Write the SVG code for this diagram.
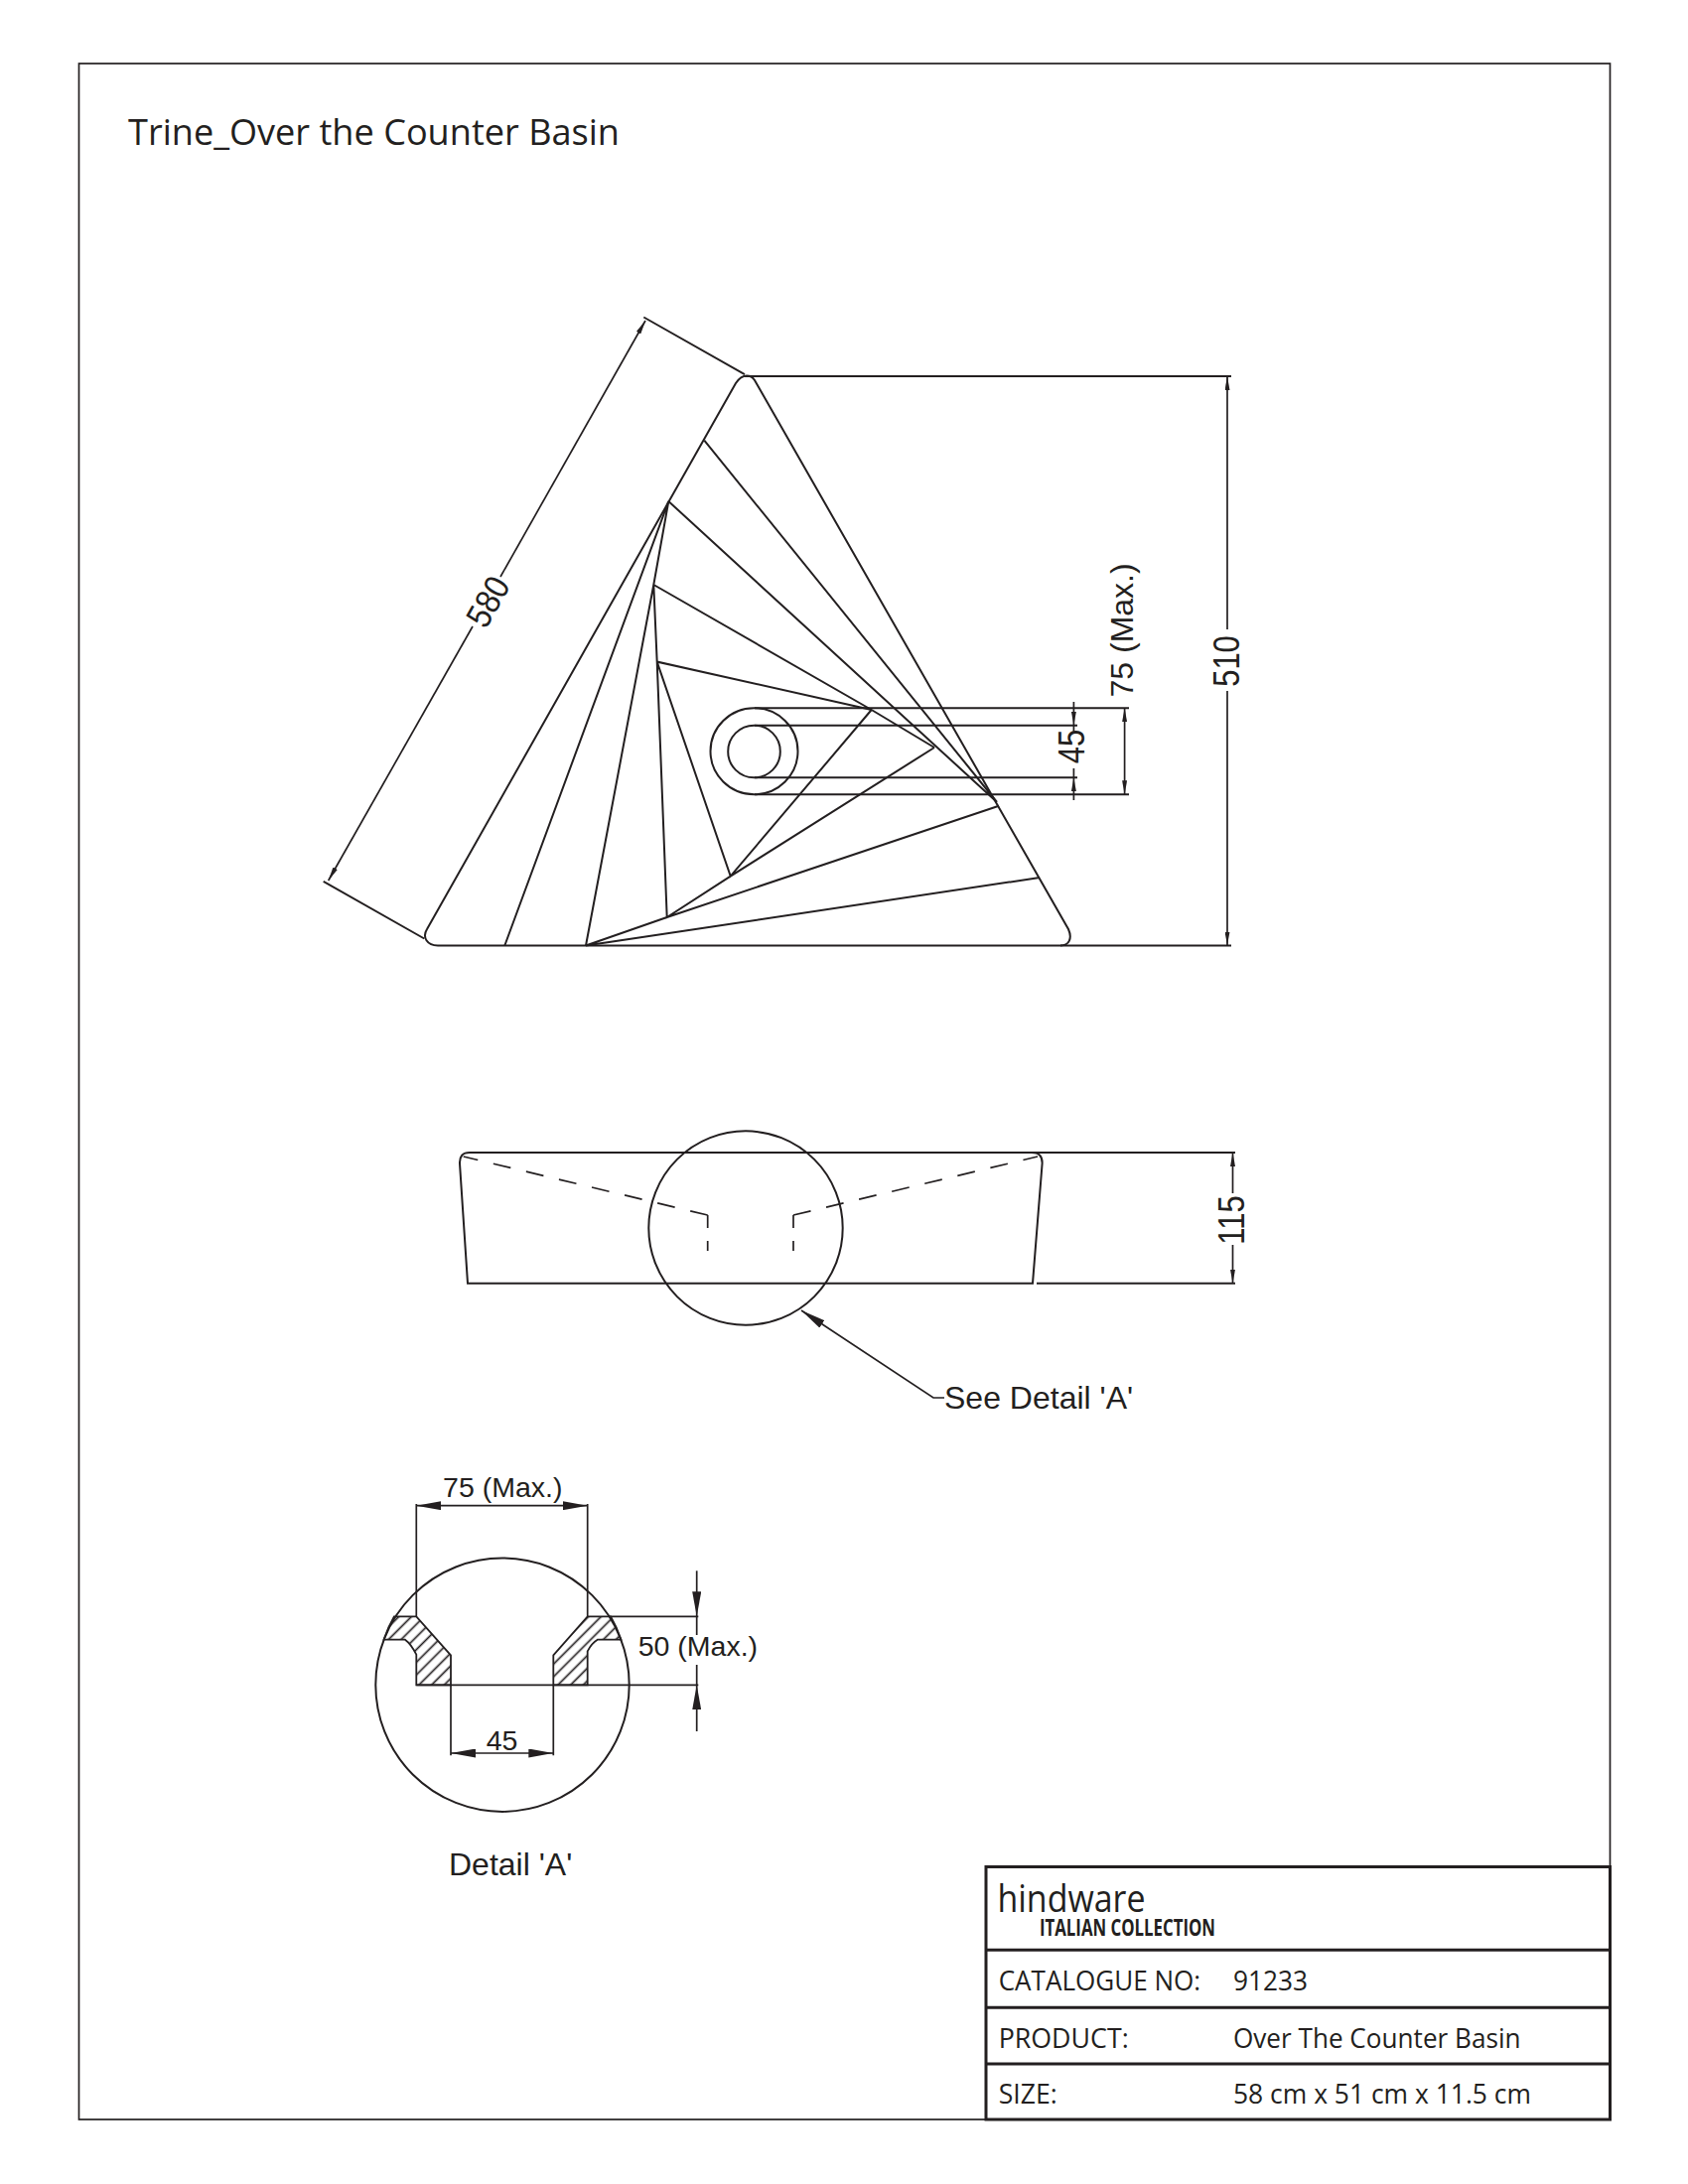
<svg xmlns="http://www.w3.org/2000/svg" width="1700" height="2200" viewBox="0 0 1700 2200">
<style>
.l{fill:none;stroke:#231f20;stroke-width:2}
.t{stroke-width:1.7}
.b{fill:none;stroke:#231f20;stroke-width:3}
.ds{stroke-dasharray:18 16}
.dv{stroke-dasharray:13 13}
.a{font-family:"Liberation Sans",Arial,sans-serif;fill:#231f20}
.d{font-size:31px}
.e{font-size:28.5px}
.c{font-size:32px}
.m{font-family:"Open Sans","Noto Sans",sans-serif;fill:#231f20}
.r{font-size:27.5px}
</style>
<defs>
<marker id="sm" markerUnits="userSpaceOnUse" markerWidth="14" markerHeight="5" refX="14" refY="2.5" orient="auto-start-reverse"><path d="M0,0 L14,2.5 L0,5Z" fill="#231f20"/></marker>
<marker id="lg" markerUnits="userSpaceOnUse" markerWidth="25" markerHeight="9" refX="25" refY="4.5" orient="auto-start-reverse"><path d="M0,0 L25,4.5 L0,9Z" fill="#231f20"/></marker>
<pattern id="hatch" patternUnits="userSpaceOnUse" width="9" height="9" patternTransform="rotate(45)"><path d="M4.5,0V9" stroke="#231f20" stroke-width="1.7"/></pattern>
</defs>
<rect width="1700" height="2200" fill="#fff"/>
<rect id="page-border" class="l t" x="79.5" y="64" width="1542" height="2071"/>
<text id="title" class="m" x="129" y="146" font-size="36.5" textLength="495" lengthAdjust="spacingAndGlyphs">Trine_Over the Counter Basin</text>

<g id="top-view">
<path class="l" d="M441,952.5 C430,952.5 425,944 430,936 L741,386 Q746,378.5 752,378.5 Q757,378.5 760,383 L1076,936 C1080,945 1077,952.5 1068,952.5 Z"/>
<path class="l" d="M709.3,443.6 L1004,808 M673.3,505 L1004,808 M673.3,505 L658.3,589 L590,952.5 M673.3,505 L508.3,952.5 M658.3,589 L877.7,715 L941,753 M658.3,589 L661.7,666.6 L877.7,715 M661.7,666.6 L735.7,882.6 L877.7,715 M735.7,882.6 L941,753 M661.7,666.6 L671.7,924 L735.7,882.6 M590,952.5 L671.7,924 L1006,811.7 M590,952.5 L1047,884"/>
<ellipse class="l" cx="759.5" cy="756.7" rx="44" ry="43.5"/>
<ellipse class="l" cx="759.5" cy="757" rx="26.3" ry="26.3"/>
<path class="l" d="M760,713.3 H1137 M760,730.7 H1085 M760,783.3 H1085 M760,800.2 H1137"/>
</g>

<g id="connectors">
<path class="l" d="M648.3,319.5 L750,377.2 M325.7,887.8 L427.3,945.5 M750,379 H1240 M1068,952.5 H1240"/>
<line class="l t" x1="330.7" y1="887" x2="476" y2="631" marker-start="url(#sm)"/>
<line class="l t" x1="504" y1="581" x2="650" y2="323" marker-end="url(#sm)"/>
<line class="l t" x1="1236" y1="379" x2="1236" y2="634" marker-start="url(#sm)"/>
<line class="l t" x1="1236" y1="696" x2="1236" y2="952.5" marker-end="url(#sm)"/>
<line class="l t" x1="1081.4" y1="707" x2="1081.4" y2="730.7" marker-end="url(#sm)"/>
<line class="l t" x1="1081.4" y1="806" x2="1081.4" y2="783.3" marker-end="url(#sm)"/>
<path class="l t" d="M1081.4,730.7 V739 M1081.4,774 V783.3"/>
<line class="l t" x1="1132.6" y1="713.3" x2="1132.6" y2="800.2" marker-start="url(#sm)" marker-end="url(#sm)"/>
<line class="l t" x1="1241.5" y1="1161" x2="1241.5" y2="1202" marker-start="url(#sm)"/>
<line class="l t" x1="1241.5" y1="1254" x2="1241.5" y2="1292.7" marker-end="url(#sm)"/>
<path class="l t" d="M951,1408 H940 L807,1320" marker-end="url(#lg)"/>
<line class="l t" x1="419.3" y1="1516.7" x2="591.7" y2="1516.7" marker-start="url(#lg)" marker-end="url(#lg)"/>
<line class="l t" x1="454" y1="1766" x2="557.3" y2="1766" marker-start="url(#lg)" marker-end="url(#lg)"/>
<line class="l t" x1="701.7" y1="1582.3" x2="701.7" y2="1628.3" marker-end="url(#lg)"/>
<line class="l t" x1="701.7" y1="1744" x2="701.7" y2="1697.3" marker-end="url(#lg)"/>
<path class="l t" d="M701.7,1628.3 V1647 M701.7,1677 V1697.3"/>
<path class="l t" d="M419.3,1515 V1628.3 M591.7,1515 V1628.3 M454,1697.3 V1768.3 M557.3,1697.3 V1768.3 M614,1628.3 H703.3 M419.3,1697.3 H703.3"/>
</g>

<g id="side-view">
<path class="l" d="M471,1292.7 L463,1172 Q462.5,1161 473,1161 H1039 Q1050,1161 1049.6,1172 L1040,1292.7 Z"/>
<path class="l" d="M1044,1292.7 H1244 M1039,1161 H1244"/>
<path class="l t ds" d="M712.7,1224 L466.7,1165"/>
<path class="l t ds" d="M799,1224 L1045,1165"/>
<path class="l t dv" d="M712.7,1224 V1260"/>
<path class="l t dv" d="M799,1224 V1260"/>
<circle class="l" cx="751" cy="1237" r="97.7"/>
</g>

<g id="detail-a">
<circle class="l" cx="506" cy="1697.2" r="127.7"/>
<path d="M397,1628.3 H419.3 L454,1667.3 V1697.3 H419.3 V1666.7 Q414,1656 408,1651.7 H386.5 A127.7,127.7 0 0 1 397,1628.3 Z" fill="url(#hatch)" stroke="#231f20" stroke-width="1.8"/>
<path d="M615,1628.3 H591.7 L557.3,1667.3 V1697.3 H591.7 V1663.3 Q596,1655 601.7,1651.7 H625.5 A127.7,127.7 0 0 0 615,1628.3 Z" fill="url(#hatch)" stroke="#231f20" stroke-width="1.8"/>
</g>

<g id="dimension-labels">
<text class="a d" text-anchor="middle" transform="translate(502,612) rotate(-60.5) scale(1,1.14)">580</text>
<text class="a d" text-anchor="middle" transform="translate(1248,666) rotate(-90) scale(1,1.18)">510</text>
<text class="a d" text-anchor="middle" transform="translate(1092,752) rotate(-90) scale(1,1.18)">45</text>
<text class="a" font-size="32" transform="translate(1141,702.5) rotate(-90)">75 (Max.)</text>
<text class="a d" text-anchor="middle" transform="translate(1253,1229) rotate(-90) scale(1,1.18)">115</text>
<text class="a c" x="951" y="1419.3">See Detail 'A'</text>
<text class="a e" text-anchor="middle" x="506.3" y="1508.3">75 (Max.)</text>
<text class="a e" text-anchor="middle" x="505.6" y="1763.3">45</text>
<text class="a e" x="642.7" y="1668.3">50 (Max.)</text>
<text class="a c" x="452" y="1888.5">Detail 'A'</text>
</g>

<g id="title-block">
<rect class="b" x="993" y="1880.5" width="628.5" height="254.5"/>
<path class="b" d="M993,1964.3 H1621.5 M993,2022.3 H1621.5 M993,2079 H1621.5"/>
<text class="m" x="1004.5" y="1926" font-size="38" font-weight="400" textLength="149" lengthAdjust="spacingAndGlyphs">hindware</text>
<text class="m" x="1047" y="1950" font-size="24" font-weight="700" textLength="177" lengthAdjust="spacingAndGlyphs">ITALIAN COLLECTION</text>
<text class="m r" x="1005.7" y="2005" textLength="203.5" lengthAdjust="spacingAndGlyphs">CATALOGUE NO:</text>
<text class="m r" x="1242" y="2005" textLength="75" lengthAdjust="spacingAndGlyphs">91233</text>
<text class="m r" x="1005.7" y="2062.5" textLength="131" lengthAdjust="spacingAndGlyphs">PRODUCT:</text>
<text class="m r" x="1242" y="2062.5" textLength="289.5" lengthAdjust="spacingAndGlyphs">Over The Counter Basin</text>
<text class="m r" x="1005.7" y="2118.5" textLength="59" lengthAdjust="spacingAndGlyphs">SIZE:</text>
<text class="m r" x="1242" y="2118.5" textLength="300" lengthAdjust="spacingAndGlyphs">58 cm x 51 cm x 11.5 cm</text>
</g>
</svg>
